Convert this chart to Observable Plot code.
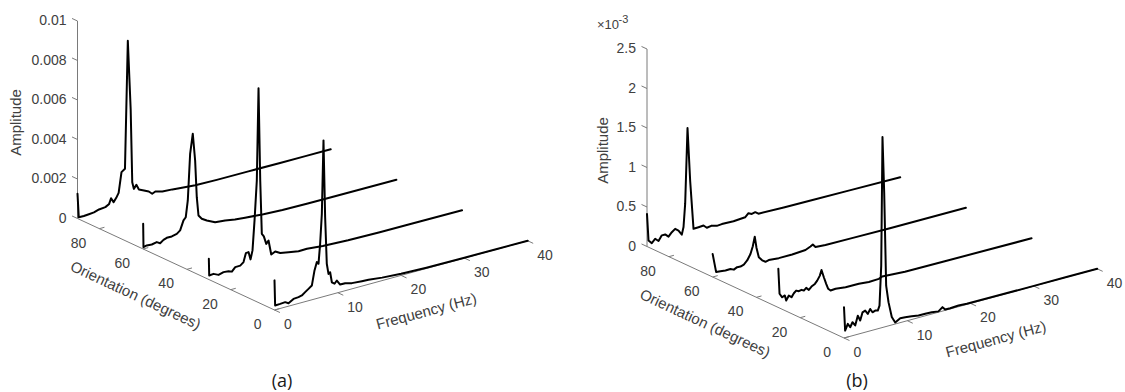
<!DOCTYPE html>
<html><head><meta charset="utf-8">
<script src="https://cdn.jsdelivr.net/npm/d3@7"></script>
<script src="https://cdn.jsdelivr.net/npm/@observablehq/plot@0.6"></script>
<style>
body{margin:0;background:#fff;width:1125px;height:392px;overflow:hidden;font-family:"Liberation Sans",Arial,sans-serif}
#row{display:flex}
#caps{position:relative;height:24px;font-family:"Open Sans","Liberation Sans",sans-serif;font-size:18px;line-height:24px;color:#1a1a1a}
#caps span{position:absolute;top:0;transform:translateX(-50%)}
</style></head><body>
<div id="row"><div id="pa"></div><div id="pb"></div></div>
<div id="caps"></div>
<script>
// ---------- data ----------
const orientations = [90, 60, 30, 0];
const freqTicks = [0, 10, 20, 30, 40];
const orientTicks = [0, 20, 40, 60, 80];
const ampTicksA = [0, 0.002, 0.004, 0.006, 0.008, 0.01];
const ampLabelsA = ["0", "0.002", "0.004", "0.006", "0.008", "0.01"];
const ampTicksB = [0, 0.5, 1, 1.5, 2, 2.5];          // x 10^-3
const ampLabelsB = ["0", "0.5", "1", "1.5", "2", "2.5"];
const ampExponentB = "-3";
const captions = ["(a)", "(b)"];
const axisTitles = {amp: "Amplitude", orient: "Orientation (degrees)", freq: "Frequency (Hz)"};

// panel (a): amplitude
const freqA90 = [0, 0.2, 1.0, 1.8, 2.6, 3.4, 4.4, 5.0, 5.3, 5.7, 6.1, 6.5, 6.95, 7.5, 7.95, 8.4, 8.65, 8.9, 9.3, 9.7, 10.5, 11.26, 11.8, 12.3, 13.4, 15.0, 16.5, 18.6, 22, 27, 32, 36, 40];
const ampA90 = [0.00125, 0.00005, 0.00004, 0.00006, 0.00008, 0.00016, 0.00019, 0.0003, 0.00056, 0.00033, 0.0005, 0.00073, 0.00174, 0.00186, 0.0083, 0.0048, 0.00108, 0.00072, 0.00089, 0.00062, 0.0005, 0.00038, 0.00022, 0.00029, 0.00019, 0.00016, 0.00011, 0.00005, 0.00003, 0.00002, 0.00001, 0.000005, 0];
const freqA60 = [0, 0.05, 0.57, 1.36, 2.15, 2.68, 3.21, 3.73, 4.52, 5.31, 5.84, 6.37, 6.73, 7.05, 7.42, 7.84, 8.21, 8.47, 8.74, 9.26, 10.05, 11.37, 12.95, 14.5, 16.1, 19, 22, 26, 30, 35, 40];
const ampA60 = [0.00128, 0.00009, 0.00013, 0.00011, 0.00016, 0.00006, 0.00018, 0.00024, 0.00024, 0.0003, 0.00043, 0.00089, 0.00102, 0.00184, 0.00417, 0.00515, 0.00376, 0.00188, 0.00093, 0.00072, 0.00056, 0.00036, 0.00031, 0.00022, 0.00017, 0.0001, 0.00005, 0.00003, 0.00002, 0.00001, 0];
const freqA30 = [0, 0.06, 0.74, 1.53, 2.32, 3.11, 3.64, 4.17, 4.96, 5.48, 5.85, 6.27, 6.59, 6.9, 7.22, 7.58, 7.85, 8.12, 8.37, 8.69, 9.07, 9.43, 9.86, 10.49, 11.28, 12.59, 14.17, 15.5, 18, 22, 27, 32, 36, 40];
const ampA30 = [0.00105, 0.0002, 0.00022, 0.0001, 0.00017, 0.00015, 0.00008, 0.00026, 0.00027, 0.0004, 0.00082, 0.00084, 0.00044, 0.00087, 0.00236, 0.00435, 0.009, 0.0043, 0.00158, 0.00142, 0.00101, 0.00115, 0.0004, 0.0005, 0.00035, 0.00028, 0.00019, 0.0002, 0.00012, 0.00006, 0.00003, 0.00002, 0.00001, 0];
const freqA0 = [0, 0.1, 0.9, 1.69, 2.21, 3.0, 3.79, 4.32, 4.84, 5.37, 5.9, 6.32, 6.69, 6.95, 7.21, 7.48, 7.74, 8.0, 8.26, 8.53, 8.79, 9.06, 9.48, 9.85, 10.37, 11.17, 12.22, 13.8, 14.85, 17, 20, 24, 30, 35, 40];
const ampA0 = [0.0015, 0.00022, 0.00023, 0.00025, 0.00015, 0.0003, 0.00032, 0.00036, 0.00048, 0.0006, 0.00072, 0.00145, 0.00184, 0.00173, 0.00272, 0.00422, 0.00791, 0.004, 0.00162, 0.00108, 0.00114, 0.00061, 0.0005, 0.00063, 0.00038, 0.00038, 0.00029, 0.00025, 0.00023, 0.00015, 0.00008, 0.00004, 0.00002, 0.00001, 0];

// panel (b): amplitude in units of 10^-3
const freqB90 = [0, 0.24, 0.76, 1.29, 1.82, 2.34, 2.87, 3.4, 3.92, 4.45, 4.98, 5.5, 5.77, 6.03, 6.4, 6.82, 7.35, 8.14, 8.93, 9.45, 10.24, 11.03, 11.82, 13.67, 15.5, 16.03, 16.56, 17.1, 17.6, 21.6, 26, 32, 40];
const ampB90 = [0.41, 0.07, 0.025, 0.07, 0.03, 0.09, 0.09, 0.05, 0.095, 0.126, 0.093, 0.03, 0.12, 0.41, 1.36, 0.68, 0.063, 0.066, 0.07, 0.03, 0.04, 0.02, 0.025, 0.02, 0.03, 0.07, 0.05, 0.06, 0.03, 0.02, 0.015, 0.01, 0];
const freqB60 = [0, 0.55, 1.23, 2.02, 2.81, 3.34, 3.87, 4.39, 4.92, 5.45, 5.97, 6.34, 6.65, 6.92, 7.29, 7.82, 8.34, 8.86, 10.44, 12.56, 14.66, 15.45, 15.82, 16.24, 17.82, 22, 28, 34, 40];
const ampB60 = [0.29, 0.05, 0.047, 0.038, 0.04, 0.02, 0.04, 0.036, 0.05, 0.09, 0.16, 0.25, 0.365, 0.22, 0.09, 0.04, 0.01, 0.02, 0.01, 0.01, 0.02, 0.048, 0.065, 0.025, 0.015, 0.01, 0.005, 0.003, 0];
const freqB30 = [0, 0.19, 0.61, 1.03, 1.24, 1.66, 2.09, 2.45, 2.82, 3.24, 3.66, 4.03, 4.4, 4.82, 5.24, 5.77, 6.14, 6.56, 6.82, 7.19, 7.56, 7.88, 8.25, 9.04, 10.62, 12.72, 14.3, 15.88, 16.4, 20, 26, 33, 40];
const ampB30 = [0.49, 0.17, 0.116, 0.13, 0.06, 0.115, 0.085, 0.127, 0.152, 0.135, 0.143, 0.126, 0.152, 0.118, 0.15, 0.172, 0.206, 0.26, 0.326, 0.225, 0.134, 0.064, 0.034, 0.039, 0.024, 0.021, 0.01, 0.015, 0.033, 0.015, 0.01, 0.005, 0];
const freqB0 = [0, 0.18, 0.6, 0.98, 1.34, 1.77, 2.18, 2.56, 2.92, 3.35, 3.76, 4.14, 4.5, 4.93, 5.34, 5.61, 5.88, 6.08, 6.35, 6.66, 7.03, 7.55, 8.09, 8.88, 9.67, 10.7, 11.77, 12.83, 13.87, 14.93, 15.56, 15.99, 16.78, 18.09, 19.4, 24, 30, 35, 40];
const ampB0 = [0.39, 0.09, 0.166, 0.115, 0.17, 0.12, 0.235, 0.165, 0.26, 0.273, 0.223, 0.277, 0.227, 0.239, 0.23, 0.287, 0.785, 2.41, 1.7, 0.516, 0.3, 0.1, 0.02, 0.056, 0.05, 0.04, 0.027, 0.025, 0.023, 0.01, 0.05, 0.01, 0.01, 0.015, 0.008, 0.005, 0.003, 0.002, 0];

// ---------- 3-D view (layout) ----------
const FREQ_PX = [6.33, -1.73];            // screen px per Hz
const ORI_PX = [197 / 90, 91.5 / 90];     // screen px per degree (towards the viewer)
const AMP_LEN = 197.5;                    // screen px of the full amplitude axis
const AXIS_COLOR = "#7a7a7a", TEXT_COLOR = "#404040", FONT = "Liberation Sans, Arial, sans-serif";

function panel({W, H, O, ampTicks, ampLabels, series, ampTitleOff, exponent}) {
  const ampMax = d3.max(ampTicks), fMax = d3.max(freqTicks), oMax = d3.max(orientations);
  const aS = d3.scaleLinear([0, ampMax], [0, AMP_LEN]);
  const P = (f, th, a) => [O[0] + f * FREQ_PX[0] + (oMax - th) * ORI_PX[0],
                           O[1] + f * FREQ_PX[1] + (oMax - th) * ORI_PX[1] - aS(a)];
  const seg = (a, b) => ({x1: a[0], y1: a[1], x2: b[0], y2: b[1]});
  const lineRows = series.flatMap(s => s.freq.map((f, i) => {
    const [x, y] = P(f, s.orient, s.amp[i]); return {x, y, orient: s.orient};
  }));
  const axes = [
    seg(P(0, oMax, 0), P(0, oMax, ampMax)),
    seg(P(0, oMax, 0), P(0, 0, 0)),
    seg(P(0, 0, 0), P(fMax, 0, 0))
  ];
  const ticks = [
    ...ampTicks.map(a => seg(P(0, oMax, a), P(0, oMax + 2.5, a))),
    ...orientTicks.map(t => seg(P(0, t, 0), P(0.8, t, 0))),
    ...freqTicks.map(f => seg(P(f, 0, 0), P(f, -2.5, 0)))
  ];
  const ampLab = ampTicks.map((a, i) => { const [x, y] = P(0, oMax, a); return {x: x - 11, y, text: ampLabels[i]}; });
  const oriLab = orientTicks.map(t => { const [x, y] = P(0, t, 0); return {x: x - 13, y: y + 14.5, text: String(t)}; });
  const frqLab = freqTicks.map(f => { const [x, y] = P(f, 0, 0); return {x: x + 9.5, y: y + 14.5, text: String(f)}; });
  const titles = [
    {x: O[0] + ampTitleOff, y: O[1] - 96, text: axisTitles.amp, rotate: -90},
    {x: O[0] + 58, y: O[1] + 77, text: axisTitles.orient, rotate: 25},
    {x: O[0] + 349, y: O[1] + 93, text: axisTitles.freq, rotate: -15}
  ];
  const marks = [
    Plot.link(axes, {x1: "x1", y1: "y1", x2: "x2", y2: "y2", stroke: AXIS_COLOR, strokeWidth: 1}),
    Plot.link(ticks, {x1: "x1", y1: "y1", x2: "x2", y2: "y2", stroke: AXIS_COLOR, strokeWidth: 1}),
    Plot.line(lineRows, {x: "x", y: "y", z: "orient", stroke: "#000", strokeWidth: 2, strokeLinejoin: "round"}),
    Plot.text(ampLab, {x: "x", y: "y", text: "text", textAnchor: "end", fontSize: 14, fill: TEXT_COLOR, fontFamily: FONT}),
    Plot.text(oriLab, {x: "x", y: "y", text: "text", textAnchor: "end", fontSize: 14, fill: TEXT_COLOR, fontFamily: FONT}),
    Plot.text(frqLab, {x: "x", y: "y", text: "text", textAnchor: "start", fontSize: 14, fill: TEXT_COLOR, fontFamily: FONT}),
    Plot.text(titles, {x: "x", y: "y", text: "text", rotate: "rotate", fontSize: 15, fill: TEXT_COLOR, fontFamily: FONT})
  ];
  if (exponent) {
    const [tx, ty] = P(0, oMax, ampMax);
    marks.push(Plot.text([{x: tx - 50, y: ty - 24, text: "\u00d710"}], {x: "x", y: "y", text: "text", textAnchor: "start", fontSize: 13, fill: TEXT_COLOR, fontFamily: FONT}));
    marks.push(Plot.text([{x: tx - 28.5, y: ty - 30, text: exponent}], {x: "x", y: "y", text: "text", textAnchor: "start", fontSize: 11, fill: TEXT_COLOR, fontFamily: FONT}));
  }
  return Plot.plot({
    width: W, height: H, margin: 0,
    x: {domain: [0, W], range: [0, W], axis: null},
    y: {domain: [0, H], range: [0, H], axis: null},
    style: {background: "#fff", overflow: "visible"},
    marks
  });
}

const H = 368;
const seriesA = [
  {orient: orientations[0], freq: freqA90, amp: ampA90},
  {orient: orientations[1], freq: freqA60, amp: ampA60},
  {orient: orientations[2], freq: freqA30, amp: ampA30},
  {orient: orientations[3], freq: freqA0, amp: ampA0}
];
const seriesB = [
  {orient: orientations[0], freq: freqB90, amp: ampB90},
  {orient: orientations[1], freq: freqB60, amp: ampB60},
  {orient: orientations[2], freq: freqB30, amp: ampB30},
  {orient: orientations[3], freq: freqB0, amp: ampB0}
];
document.getElementById("pa").append(panel({W: 562, H, O: [77, 218], ampTicks: ampTicksA, ampLabels: ampLabelsA, series: seriesA, ampTitleOff: -61}));
document.getElementById("pb").append(panel({W: 563, H, O: [84.5, 246], ampTicks: ampTicksB, ampLabels: ampLabelsB, series: seriesB, ampTitleOff: -43.5, exponent: ampExponentB}));

const capX = [282, 857];
const caps = document.getElementById("caps");
captions.forEach((c, i) => { const s = document.createElement("span"); s.style.left = capX[i] + "px"; s.textContent = c; caps.append(s); });
</script>
</body></html>
